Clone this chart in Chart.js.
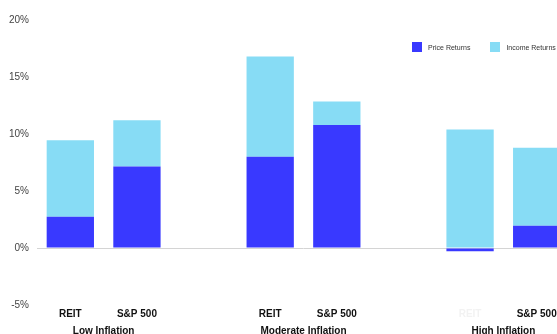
<!DOCTYPE html>
<html>
<head>
<meta charset="utf-8">
<script src="https://cdn.jsdelivr.net/npm/chart.js@4.4.1/dist/chart.umd.min.js"></script>
<style>
    html, body { margin: 0; padding: 0; background: #fff; overflow: hidden; }
    #wrap { position: relative; width: 557px; height: 334px; overflow: hidden; }
    #legend { position: absolute; left: 412px; top: 42px; font-family: 'Liberation Sans', Arial, sans-serif; font-size: 7px; color: #333; white-space: nowrap; }
    .item { display: inline-flex; align-items: center; margin-right: 20px; }
    .box { width: 10px; height: 10px; margin-right: 6px; }
</style>
</head>
<body>
<div id="wrap">
    <canvas id="chart" width="572" height="343"></canvas>
    <div id="legend"></div>
</div>
<script>
// dados
const categories = ['REIT', 'S&P 500', '', 'REIT', 'S&P 500', '', 'REIT', 'S&P 500'];
// rótulos dos grupos, centrados entre as duas barras de cada grupo
const groupLabels = ['', 'Low Inflation', '', '', 'Moderate Inflation', '', '', 'High Inflation', ''];
const priceReturns = [2.75, 7.15, null, 8.0, 10.8, null, -0.28, 1.95];
const incomeReturns = [6.7, 4.05, null, 8.8, 2.05, null, 10.4, 6.85];
const yTicks = [-5, 0, 5, 10, 15, 20];

const font = "'Liberation Sans', Arial, sans-serif";

const chart = new Chart(document.getElementById('chart'), {
    type: 'bar',
    data: {
        labels: categories,
        datasets: [{
            label: 'Price Returns',
            data: priceReturns,
            backgroundColor: '#3939FF',
            barPercentage: 0.71,
            categoryPercentage: 1
        }, {
            label: 'Income Returns',
            data: incomeReturns,
            backgroundColor: '#87DCF5',
            barPercentage: 0.71,
            categoryPercentage: 1
        }]
    },
    options: {
        responsive: false,
        animation: false,
        devicePixelRatio: 1,
        layout: { padding: { left: 1, top: 20, right: 2, bottom: 4 } },
        plugins: {
            legend: { display: false },
            tooltip: { enabled: false }
        },
        scales: {
            x: {
                stacked: true,
                weight: 0,
                grid: { display: false, drawTicks: false },
                border: { display: false },
                ticks: {
                    autoSkip: false,
                    maxRotation: 0,
                    padding: 3,
                    font: { family: font, size: 10, weight: 'bold' },
                    // o rótulo REIT de High Inflation está quase apagado na imagem
                    color: (ctx) => ctx.index === 6 ? '#f2f2f2' : '#111'
                }
            },
            x2: {
                type: 'category',
                labels: groupLabels,
                position: 'bottom',
                weight: 1,
                offset: false,
                grid: { display: false, drawTicks: false },
                border: { display: false },
                ticks: {
                    autoSkip: false,
                    maxRotation: 0,
                    padding: 2,
                    font: { family: font, size: 10, weight: 'bold' },
                    color: '#111'
                }
            },
            y: {
                stacked: true,
                min: -5,
                max: 20,
                afterBuildTicks: (scale) => {
                    scale.ticks = yTicks.map(v => ({ value: v }));
                },
                border: { display: false },
                grid: {
                    drawTicks: false,
                    color: (ctx) => ctx.tick && ctx.tick.value === 0 ? '#d4d4d4' : 'transparent'
                },
                ticks: {
                    padding: 8,
                    font: { family: font, size: 10 },
                    color: '#444',
                    callback: (value) => value + '%'
                }
            }
        }
    }
});

// Legenda em HTML por cima do gráfico
const legend = document.getElementById('legend');
chart.data.datasets.forEach(ds => {
    const item = document.createElement('span');
    item.className = 'item';
    item.innerHTML = `<span class="box" style="background:${ds.backgroundColor}"></span>${ds.label}`;
    legend.appendChild(item);
});
</script>
</body>
</html>
